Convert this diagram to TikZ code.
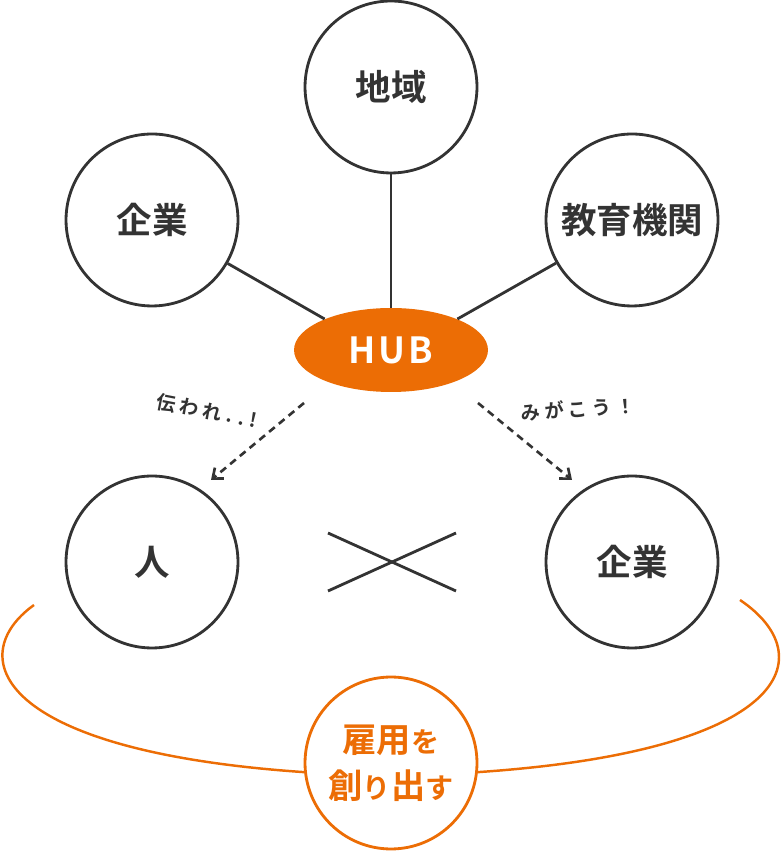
\documentclass[tikz,border=0pt]{standalone}
\usepackage{fontspec}
\usetikzlibrary{arrows.meta,shapes.geometric}
\newfontfamily\cjk{Noto Sans CJK JP}[BoldFont={Noto Sans CJK JP Bold}]
\definecolor{hubor}{HTML}{EC6D05}
\definecolor{ink}{HTML}{333333}
\newcommand\kana[1]{{\fontsize{16}{26}\selectfont #1}}
\begin{document}
\begin{tikzpicture}[x=.02cm,y=.02cm,
  bub/.style={circle, draw=ink, line width=1.6pt, minimum size=3.44cm, inner sep=0pt, text=ink, font=\cjk\bfseries\fontsize{20.2}{24}\selectfont},
  goal/.style={bub, draw=hubor, text=hubor, align=center, font=\cjk\bfseries\fontsize{19.5}{26}\selectfont},
  lnk/.style={ink, line width=1.6pt},
  dsh/.style={ink, line width=1.5pt, dash pattern=on 4.2pt off 3pt, -{Straight Barb[length=5pt,width=8pt]}},
  bow/.style={hubor, line width=1.4pt},
  hand/.style={text=ink, inner sep=0pt, font=\cjk\bfseries\fontsize{11}{13}\selectfont}]
\useasboundingbox (0,0) rectangle (782,851);
\node[bub] (area) at (391,764){地域};
\node[bub] (firm) at (152,631){企業};
\node[bub] (school) at (632,631){教育機関};
\node[ellipse, fill=hubor, minimum width=3.88cm, minimum height=1.68cm, inner sep=0pt, text=white, font=\cjk\bfseries\addfontfeature{LetterSpace=8}\fontsize{20.5}{22}\selectfont] (hub) at (391,501){HUB};
\draw[lnk](firm) -- (hub.155);
\draw[lnk](area) -- (hub);
\draw[lnk](school) -- (hub.25);
\node[bub] (person) at (152,289){人};
\node[bub] (firmb) at (632,289){企業};
\coordinate (lfrom) at (304,448);
\coordinate (lto) at (211,371);
\coordinate (rfrom) at (478,448);
\coordinate (rto) at (572,371);
\draw[dsh](lfrom) -- (lto);
\draw[dsh](rfrom) -- (rto);
\node[hand, rotate=-11] (ltext) at (207,440){伝 わ れ . . !};
\node[hand, rotate=4] (rtext) at (578,442){み が こ う ！};
\coordinate (xa) at (328,318);
\coordinate (xb) at (456,260);
\coordinate (xc) at (328,260);
\coordinate (xd) at (456,318);
\draw[lnk](xa) -- (xb);
\draw[lnk](xc) -- (xd);
\node[goal] (job) at (391,88){雇用\kana{を}\\創\kana{り}出\kana{す}};
\coordinate (al) at (34,246);
\coordinate (ar) at (740,251);
\draw[bow](al) .. controls (-37,195) and (-5,100) .. (job.186);
\draw[bow](ar) .. controls (823,195) and (790,100) .. (job.354);
\end{tikzpicture}
\end{document}
